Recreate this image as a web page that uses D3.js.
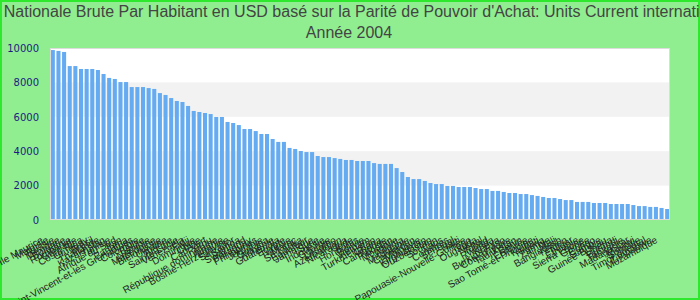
<!DOCTYPE html>
<html>
<head>
<meta charset="utf-8">
<script src="https://cdn.jsdelivr.net/npm/d3@7"></script>
<style>
  body { margin: 0; padding: 0; background: #fff; }
  svg { display: block; }
</style>
</head>
<body>
<svg class="chart" width="700" height="300"></svg>
<script>
// titre du graphique
var titleLines = [
    "Revenu Nationale Brute Par Habitant en USD basé sur la Parité de Pouvoir d'Achat: Units Current international ($)",
    "Année 2004"
];

// pays, tries par valeur decroissante
var countries = [
    "Île Maurice", "Malaisie", "Russie", "Mexique", "Bulgarie", "Roumanie", "Grenade", "Costa Rica",
    "Uruguay", "Brésil", "Thaïlande", "Kazakhstan", "Tunisie", "Afrique du Sud", "Iran", "Panama",
    "Saint-Vincent-et-les Grenadines", "Colombie", "Belize", "Namibie",
    "Macédoine", "Biélorussie", "Ukraine", "Algérie", "Sainte-Lucie", "Venezuela", "Fidji",
    "Dominique", "Chine", "Cap-Vert", "Pérou", "République dominicaine", "Albanie",
    "Bosnie-Herzégovine", "Salvador", "Samoa", "Swaziland", "Paraguay", "Philippines", "Jordanie", "Guyana",
    "Arménie", "Guatemala", "Égypte", "Turquie", "Maroc", "Sri Lanka", "Équateur", "Jamaïque",
    "Syrie", "Indonésie", "Géorgie", "Lesotho", "Azerbaïdjan", "Nicaragua", "Inde", "Honduras",
    "Bolivie", "Vietnam", "Turkménistan", "Ghana", "Cambodge", "Pakistan", "Mongolie", "Angola",
    "Mauritanie", "Cameroun", "Moldavie", "Kirghizistan", "Ouzbékistan", "Soudan", "Laos",
    "Comores", "Sénégal", "Haïti", "Papouasie-Nouvelle-Guinée", "Togo", "Ouganda", "Népal",
    "Tchad", "Rwanda", "Kenya", "Burkina Faso", "Côte d'Ivoire", "Tadjikistan", "Bénin",
    "Érythrée", "Sao Tomé-et-Principe", "Kiribati", "Nigeria", "Zambie", "Mali", "Bangladesh",
    "Yémen", "Niger", "Éthiopie", "Sierra Leone", "Guinée", "Congo", "Gambie", "Guinée-Bissau",
    "Liberia", "Burundi", "Tanzanie", "Madagascar", "Malawi", "Somalie", "Timor oriental",
    "Zimbabwe", "Mozambique"
];

// RNB par habitant (PPA)
var values = [
    9880, 9830, 9770, 8950, 8950, 8780, 8780, 8780, 8720, 8490,
    8260, 8200, 8020, 8020, 7730, 7730, 7730, 7670, 7620, 7380,
    7270, 7090, 6920, 6860, 6630, 6340, 6280, 6220, 6160, 5990,
    5990, 5700, 5640, 5520, 5290, 5290, 5170, 5000, 5000, 4710,
    4540, 4540, 4190, 4130, 4010, 3950, 3950, 3720, 3660, 3660,
    3600, 3550, 3490, 3490, 3430, 3430, 3430, 3310, 3260, 3260,
    3260, 3020, 2790, 2500, 2380, 2380, 2270, 2150, 2090, 2090,
    1980, 1980, 1920, 1920, 1920, 1860, 1800, 1800, 1690, 1690,
    1630, 1570, 1570, 1510, 1510, 1450, 1400, 1340, 1280, 1280,
    1220, 1160, 1160, 1050, 1050, 1050, 990, 990, 990, 930,
    930, 930, 930, 870, 810, 810, 760, 760, 700, 640
];

// graduations de l'axe vertical
var yTicks = [0, 2000, 4000, 6000, 8000, 10000];

var chart = {
    margin: {top: 48, bottom: 80, left: 50, right: 30},
    width: 700,
    height: 300,

    drawFrame: function(svg){
        svg.append("rect")
            .attr("x", 1).attr("y", 1)
            .attr("width", this.width - 2).attr("height", this.height - 2)
            .attr("fill", "#90ee90")
            .attr("stroke", "#2ee82e")
            .attr("stroke-width", 2);
        //titre
        svg.selectAll(".title")
            .data(titleLines)
            .enter()
            .append("text")
            .attr("class", "title")
            .attr("x", this.width / 2 - 1)
            .attr("y", (d, i) => 17 + i * 21)
            .attr("text-anchor", "middle")
            .attr("font-family", "Liberation Sans, Arial, sans-serif")
            .attr("font-size", 16)
            .attr("fill", "#444")
            .text(d => d);
    },

    draw: function(){
        let svg = d3.select(".chart");
        this.drawFrame(svg);

        let w = this.width - this.margin.left - this.margin.right;
        let h = this.height - this.margin.top - this.margin.bottom;

        let xScale = d3.scaleBand()
            .domain(countries)
            .range([0, w])
            .paddingInner(0.28)
            .paddingOuter(0.14);
        let yScale = d3.scaleLinear()
            .domain([0, 10000])
            .range([h, 0]);

        let g = svg.append("g")
            .attr("transform", "translate(" + this.margin.left + "," + this.margin.top + ")");

        //fond du graphique, bandes alternees
        g.append("rect")
            .attr("width", w).attr("height", h)
            .attr("fill", "#fff");
        let bands = d3.pairs(yTicks).filter((p, i) => i % 2 == 1);
        g.selectAll(".band")
            .data(bands)
            .enter()
            .append("rect")
            .attr("class", "band")
            .attr("x", 0)
            .attr("y", d => yScale(d[1]))
            .attr("width", w)
            .attr("height", d => yScale(d[0]) - yScale(d[1]))
            .attr("fill", "#f2f2f2");

        //barres
        g.selectAll(".bar")
            .data(values)
            .enter()
            .append("rect")
            .attr("class", "bar")
            .attr("x", (d, i) => xScale(countries[i]))
            .attr("y", d => yScale(d))
            .attr("width", xScale.bandwidth())
            .attr("height", d => h - yScale(d))
            .attr("fill", "#65abf2");

        g.append("rect")
            .attr("x", 0.5).attr("y", 0.5)
            .attr("width", w - 1).attr("height", h - 1)
            .attr("fill", "none")
            .attr("stroke", "#dcdcdc");

        //axe vertical
        let yAxis = d3.axisLeft(yScale)
            .tickValues(yTicks)
            .tickFormat(d3.format("d"))
            .tickSize(0)
            .tickPadding(11);
        let ya = g.append("g").call(yAxis);
        ya.select(".domain").remove();
        ya.selectAll("text")
            .attr("font-family", "DejaVu Sans, sans-serif")
            .attr("font-size", 10)
            .attr("fill", "#1c1c80");

        //etiquettes des pays
        g.selectAll(".label")
            .data(countries)
            .enter()
            .append("text")
            .attr("class", "label")
            .attr("text-anchor", "end")
            .attr("font-family", "Liberation Sans, Arial, sans-serif")
            .attr("font-size", 10)
            .attr("fill", "#222")
            .attr("transform", d => "translate(" + (xScale(d) + xScale.bandwidth() / 2 - 9) + "," + (h + 22) + ") rotate(-29)")
            .text(d => d);
    }
};
chart.draw();
</script>
</body>
</html>
